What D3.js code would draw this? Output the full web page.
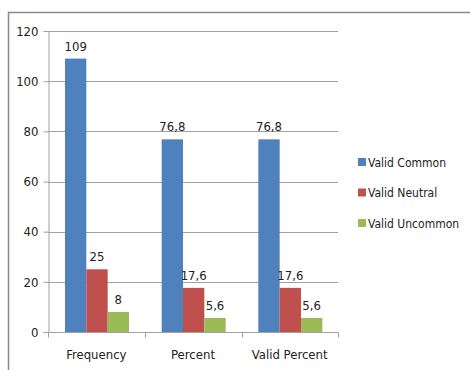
<!DOCTYPE html>
<html>
<head>
<meta charset="utf-8">
<script src="https://cdn.jsdelivr.net/npm/d3@7"></script>
<style>
  body { margin: 0; background: #fff; }
  svg text { font-family: "Liberation Sans Narrow", "DejaVu Sans Condensed", "Open Sans", sans-serif; fill: #222; }
</style>
</head>
<body>
<div id="chart"></div>
<script>
var categories = ["Frequency", "Percent", "Valid Percent"];
var seriesNames = ["Valid Common", "Valid Neutral", "Valid Uncommon"];
var validCommon = [109, 76.8, 76.8];
var validNeutral = [25, 17.6, 17.6];
var validUncommon = [8, 5.6, 5.6];
var yTicks = [0, 20, 40, 60, 80, 100, 120];
var colors = ["#4f81bd", "#c0504d", "#9bbb59"];

var width = 470, height = 370;
var seriesValues = [validCommon, validNeutral, validUncommon];

var svg = d3.select("#chart").append("svg")
  .attr("width", width)
  .attr("height", height);

// outer chart border (only top and left are in frame)
svg.append("path")
  .attr("d", "M8.5,370 L8.5,12.5 L470,12.5")
  .attr("fill", "none")
  .attr("stroke", "#8a8a8a")
  .attr("stroke-width", 1.5);

var x0 = d3.scaleBand().domain(categories).range([48, 338]);
var x1 = d3.scaleBand().domain(seriesNames).range([17, 81]);
var y = d3.scaleLinear().domain([0, 120]).range([332, 31]);

// gridlines
svg.append("g").selectAll("line")
  .data(yTicks.filter(function(d){ return d > 0; }))
  .enter().append("line")
  .attr("x1", 48).attr("x2", 338)
  .attr("y1", function(d){ return Math.round(y(d)) + 0.5; })
  .attr("y2", function(d){ return Math.round(y(d)) + 0.5; })
  .attr("stroke", "#a0a0a0")
  .attr("stroke-width", 1);

// y axis
var yAxis = svg.append("g")
  .attr("transform", "translate(48.5,0)")
  .call(d3.axisLeft(y).tickValues(yTicks).tickSize(5).tickPadding(5));
yAxis.select(".domain").attr("stroke", "#a0a0a0");
yAxis.selectAll(".tick line").attr("stroke", "#a0a0a0");
yAxis.selectAll("text").style("font-size", "13px").attr("fill", "#222");

// bars
var groups = svg.append("g").selectAll("g")
  .data(categories)
  .enter().append("g")
  .attr("transform", function(d){ return "translate(" + x0(d) + ",0)"; });

groups.selectAll("rect")
  .data(function(c, i){
    return seriesNames.map(function(s, j){ return { s: s, v: seriesValues[j][i], j: j }; });
  })
  .enter().append("rect")
  .attr("x", function(d){ return x1(d.s); })
  .attr("width", x1.bandwidth())
  .attr("y", function(d){ return y(d.v); })
  .attr("height", function(d){ return y(0) - y(d.v); })
  .attr("fill", function(d){ return colors[d.j]; });

groups.selectAll("text.val")
  .data(function(c, i){
    return seriesNames.map(function(s, j){ return { s: s, v: seriesValues[j][i], j: j }; });
  })
  .enter().append("text")
  .attr("class", "val")
  .attr("x", function(d){ return x1(d.s) + x1.bandwidth() / 2; })
  .attr("y", function(d){ return y(d.v) - 8; })
  .attr("text-anchor", "middle")
  .style("font-size", "13px")
  .text(function(d){ return String(d.v).replace(".", ","); });

// x axis
var xAxis = svg.append("g")
  .attr("transform", "translate(0," + (Math.round(y(0)) + 0.5) + ")");
xAxis.append("line")
  .attr("x1", 44).attr("x2", 338)
  .attr("stroke", "#a0a0a0");
xAxis.selectAll("line.tk")
  .data([48, 145, 242, 338])
  .enter().append("line")
  .attr("class", "tk")
  .attr("x1", function(d){ return d + 0.5; }).attr("x2", function(d){ return d + 0.5; })
  .attr("y1", 0).attr("y2", 5)
  .attr("stroke", "#a0a0a0");
xAxis.selectAll("text")
  .data(categories)
  .enter().append("text")
  .attr("x", function(d){ return x0(d) + x0.bandwidth() / 2; })
  .attr("y", 26)
  .attr("text-anchor", "middle")
  .style("font-size", "13px")
  .text(function(d){ return d; });

// legend
var legend = svg.append("g").selectAll("g")
  .data(seriesNames)
  .enter().append("g")
  .attr("transform", function(d, i){ return "translate(358," + (162 + i * 30.5) + ")"; });
legend.append("rect")
  .attr("x", 0).attr("y", -4)
  .attr("width", 8).attr("height", 8)
  .attr("fill", function(d, i){ return colors[i]; });
legend.append("text")
  .attr("x", 10).attr("y", 4.5)
  .style("font-size", "12px")
  .text(function(d){ return d; });
</script>
</body>
</html>
